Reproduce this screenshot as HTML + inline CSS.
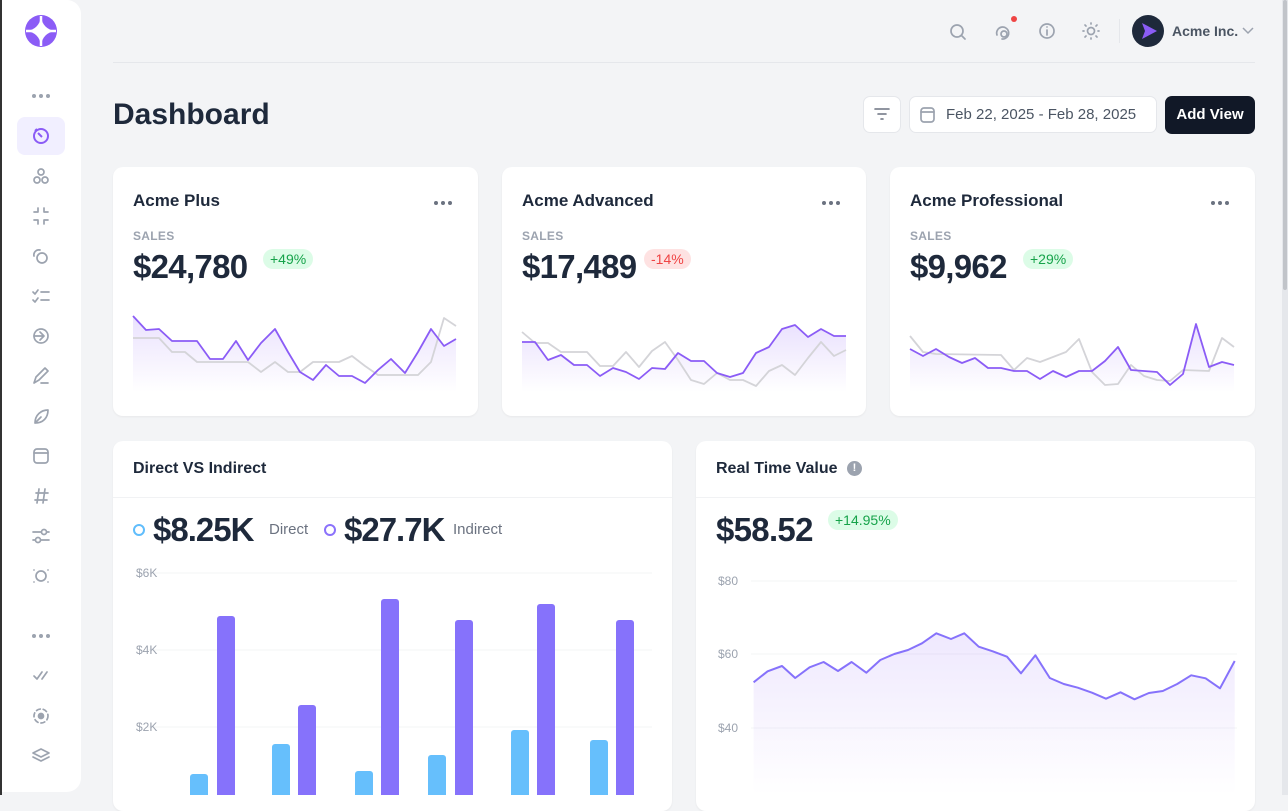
<!DOCTYPE html>
<html><head><meta charset="utf-8"><style>
*{box-sizing:border-box;margin:0;padding:0}
body{width:1288px;height:795px;overflow:hidden;background:#f3f4f6;font-family:"Liberation Sans",sans-serif;position:relative;color:#1e293b}
.abs{position:absolute}
.card{position:absolute;background:#fff;border-radius:10px;box-shadow:0 1px 2px rgba(0,0,0,.05)}
.ct{position:absolute;left:20px;top:24px;font-size:17px;font-weight:bold;color:#1e293b}
.dots{position:absolute;right:26px;top:34px;width:18px;height:4px}
.dots i{position:absolute;top:0;width:4px;height:4px;border-radius:50%;background:#6b7280}
.sales{position:absolute;left:20px;top:62px;font-size:12px;color:#9ca3af;font-weight:bold;letter-spacing:.3px}
.big{position:absolute;left:20px;top:81px;font-size:33px;font-weight:bold;color:#1e293b;letter-spacing:-0.7px}
.badge{position:absolute;top:82px;font-size:14px;padding:2px 7px;border-radius:10px}
.g{background:#dcfce7;color:#16a34a}.r{background:#fee2e2;color:#ef4444}
.ic{stroke:#9ca3af;fill:none;stroke-width:1.7;stroke-linecap:round;stroke-linejoin:round}
.ax{font-size:12px;fill:#9ca3af;font-family:"Liberation Sans",sans-serif}
</style></head><body>
<div class="abs" style="left:0;top:0;width:2px;height:795px;background:#333"></div>
<div class="abs" style="left:1282px;top:0;width:6px;height:795px;background:#e5e7eb"></div>
<div class="abs" style="left:1283px;top:0;width:4px;height:290px;background:#c1c4c9;border-radius:2px"></div>
<!-- sidebar -->
<div class="abs" style="left:2px;top:0;width:79px;height:792px;background:#fff;border-radius:0 14px 14px 0"></div>
<svg class="abs" style="left:0;top:0" width="82" height="795">
 <g fill="#8b5cf6"><circle cx="41" cy="31" r="16"/></g>
 <path d="M41 17 Q43 29 55 31 Q43 33 41 45 Q39 33 27 31 Q39 29 41 17Z" fill="#fff"/>
 <path d="M26 31h30M41 16v30" stroke="#fff" stroke-width="2.5"/>
 <g fill="#9ca3af"><circle cx="34" cy="96" r="2"/><circle cx="41" cy="96" r="2"/><circle cx="48" cy="96" r="2"/>
 <circle cx="34" cy="636" r="2"/><circle cx="41" cy="636" r="2"/><circle cx="48" cy="636" r="2"/></g>
 <rect x="17" y="117" width="48" height="38" rx="8" fill="#f1efff"/>
 <circle cx="41" cy="136" r="7" stroke="#8b5cf6" stroke-width="2" fill="none"/><path d="M38 133l4 4M35 131l2-2" stroke="#8b5cf6" stroke-width="2" fill="none"/>
 <g class="ic">
  <circle cx="41" cy="172" r="3"/><circle cx="37" cy="180" r="3"/><circle cx="45" cy="180" r="3"/>
  <path d="M34 212h4v-4M48 212h-4v-4M34 220h4v4M48 220h-4v4"/>
  <circle cx="42" cy="258" r="5"/><path d="M34 256a5 5 0 0 1 6-6"/>
  <path d="M33 292l2 2 3-4M33 300l2 2 3-4M41 292h8M41 300h8"/>
  <circle cx="41" cy="336" r="7"/><path d="M34 336h9M40 332l4 4-4 4"/>
  <path d="M34 383l2-6 9-9 3 3-9 9-5 3zM41 383h7"/>
  <path d="M35 423c0-8 6-13 13-13 0 8-5 13-13 13zM35 423l6-6"/>
  <rect x="34" y="449" width="14" height="14" rx="3"/><path d="M34 453h14"/>
  <path d="M36 493h12M35 500h12M39 489l-2 14M45 489l-2 14"/>
  <path d="M33 532h16M33 540h16"/><circle cx="44" cy="532" r="2.5" fill="#fff"/><circle cx="38" cy="540" r="2.5" fill="#fff"/>
  <circle cx="41" cy="576" r="5"/><path d="M34 570v0M48 570v0M34 582v0M48 582v0"/>
  <path d="M34 676l3 3 5-7M42 679l5-7"/>
  <circle cx="41" cy="716" r="7" stroke-dasharray="4 3"/><circle cx="41" cy="716" r="2.5" fill="#9ca3af"/>
  <path d="M41 749l8 4-8 4-8-4zM33 757l8 4 8-4"/>
 </g>
</svg>
<!-- header -->
<div class="abs" style="left:113px;top:62px;width:1142px;height:1px;background:#e5e7eb"></div>
<svg class="abs" style="left:940px;top:14px" width="160" height="34">
 <g class="ic" stroke="#6b7280">
  <circle cx="17" cy="17" r="6"/><path d="M22 22l3 3"/>
  <path d="M57 21a6 6 0 1 1 5 4"/><circle cx="64" cy="20" r="3"/>
  <circle cx="107" cy="17" r="7"/><path d="M107 16v5M107 13v0"/>
  <circle cx="151" cy="17" r="3.5"/><path d="M151 9v1M151 24v1M143 17h1M158 17h1M145 11l1 1M156 22l1 1M145 23l1-1M156 12l1-1"/>
 </g>
 <circle cx="74" cy="5" r="3" fill="#ef4444"/>
</svg>
<div class="abs" style="left:1119px;top:19px;width:1px;height:24px;background:#e5e7eb"></div>
<div class="abs" style="left:1132px;top:15px;width:32px;height:32px;border-radius:50%;background:#1e293b"></div>
<svg class="abs" style="left:1132px;top:15px" width="32" height="32"><path d="M10 8l15 8-15 8 3-8z" fill="#8b5cf6"/></svg>
<div class="abs" style="left:1172px;top:23px;font-size:14px;color:#4b5563;font-weight:bold">Acme Inc.</div>
<svg class="abs" style="left:1242px;top:27px" width="12" height="8"><path d="M1 1l5 5 5-5" stroke="#9ca3af" stroke-width="1.5" fill="none"/></svg>
<div class="abs" style="left:113px;top:98px;font-size:30px;font-weight:bold;color:#1e293b">Dashboard</div>
<div class="abs" style="left:863px;top:96px;width:38px;height:37px;background:#fff;border-radius:7px;border:1px solid #e5e7eb"></div>
<svg class="abs" style="left:863px;top:96px" width="38" height="37"><path d="M12 13h14M15 18h8M18 23h2" stroke="#6b7280" stroke-width="1.6" stroke-linecap="round"/></svg>
<div class="abs" style="left:909px;top:96px;width:248px;height:37px;background:#fff;border-radius:7px;border:1px solid #e5e7eb"></div>
<svg class="abs" style="left:918px;top:105px" width="20" height="20"><rect x="3" y="3" width="13" height="14" rx="3" class="ic" stroke="#6b7280"/><path d="M3 7h13" class="ic" stroke="#6b7280"/></svg>
<div class="abs" style="left:946px;top:106px;font-size:15px;color:#4b5563">Feb 22, 2025 - Feb 28, 2025</div>
<div class="abs" style="left:1165px;top:96px;width:90px;height:38px;background:#111827;border-radius:7px;color:#fff;font-size:15px;font-weight:bold;text-align:center;line-height:38px">Add View</div>

<!-- cards -->
<div class="card" style="left:113px;top:167px;width:365px;height:249px">
 <div class="ct">Acme Plus</div><div class="dots"><i style="left:0"></i><i style="left:7px"></i><i style="left:14px"></i></div>
 <div class="sales">SALES</div><div class="big">$24,780</div><div class="badge g" style="left:150px">+49%</div>
</div>
<div class="card" style="left:502px;top:167px;width:364px;height:249px">
 <div class="ct">Acme Advanced</div><div class="dots"><i style="left:0"></i><i style="left:7px"></i><i style="left:14px"></i></div>
 <div class="sales">SALES</div><div class="big">$17,489</div><div class="badge r" style="left:142px">-14%</div>
</div>
<div class="card" style="left:890px;top:167px;width:365px;height:249px">
 <div class="ct">Acme Professional</div><div class="dots"><i style="left:0"></i><i style="left:7px"></i><i style="left:14px"></i></div>
 <div class="sales">SALES</div><div class="big">$9,962</div><div class="badge g" style="left:133px">+29%</div>
</div>
<svg class="abs" style="left:0;top:0" width="1288" height="420">
 <defs><linearGradient id="gf" x1="0" y1="0" x2="0" y2="1"><stop offset="0" stop-color="#8b5cf6" stop-opacity=".18"/><stop offset="1" stop-color="#8b5cf6" stop-opacity="0"/></linearGradient></defs>
 <g fill="none" stroke-width="1.8" stroke-linejoin="round">
 <polygon fill="url(#gf)" stroke="none" points="133,316 146,330 159,329 172,341 185,341 197,341 210,359 223,359 236,341 248,360 261,343 275,329 288,352 300,372 313,380 326,365 339,376 352,376 365,383 378,370 391,359 405,373 418,352 431,329 444,346 456,339 456,392 133,392"/>
 <polyline stroke="#d4d4d8" points="133,338 159,338 172,352 185,352 197,362 248,362 261,372 275,362 288,372 300,372 313,362 339,362 352,356 365,366 378,375 418,375 431,362 444,318 456,326"/>
 <polyline stroke="#8b5cf6" points="133,316 146,330 159,329 172,341 185,341 197,341 210,359 223,359 236,341 248,360 261,343 275,329 288,352 300,372 313,380 326,365 339,376 352,376 365,383 378,370 391,359 405,373 418,352 431,329 444,346 456,339"/>
 <polygon fill="url(#gf)" stroke="none" points="522,342 535,342 548,360 561,355 574,365 587,365 600,376 613,368 626,372 639,379 652,368 665,369 678,353 691,361 704,361 717,373 730,377 743,373 756,353 769,347 782,329 795,325 808,337 821,329 834,336 846,336 846,392 522,392"/>
 <polyline stroke="#d4d4d8" points="522,332 535,343 548,343 561,352 587,352 600,366 613,366 626,352 639,367 652,351 665,342 678,360 691,380 704,384 717,373 730,380 743,380 756,386 769,371 782,365 795,375 808,358 821,342 834,356 846,350"/>
 <polyline stroke="#8b5cf6" points="522,342 535,342 548,360 561,355 574,365 587,365 600,376 613,368 626,372 639,379 652,368 665,369 678,353 691,361 704,361 717,373 730,377 743,373 756,353 769,347 782,329 795,325 808,337 821,329 834,336 846,336"/>
 <polygon fill="url(#gf)" stroke="none" points="910,349 923,356 936,349 949,357 962,363 975,358 988,368 1001,368 1014,371 1027,371 1040,379 1053,371 1066,377 1079,371 1092,371 1105,361 1118,347 1131,370 1144,371 1157,372 1170,385 1183,374 1196,324 1209,367 1222,362 1234,365 1234,392 910,392"/>
 <polyline stroke="#d4d4d8" points="910,336 923,352 936,354 1001,355 1014,370 1027,358 1040,362 1066,352 1079,339 1092,372 1105,385 1118,384 1131,365 1144,376 1157,380 1170,381 1183,370 1209,371 1222,338 1234,347"/>
 <polyline stroke="#8b5cf6" points="910,349 923,356 936,349 949,357 962,363 975,358 988,368 1001,368 1014,371 1027,371 1040,379 1053,371 1066,377 1079,371 1092,371 1105,361 1118,347 1131,370 1144,371 1157,372 1170,385 1183,374 1196,324 1209,367 1222,362 1234,365"/>
 </g>
</svg>

<!-- bottom cards -->
<div class="card" style="left:113px;top:441px;width:559px;height:370px">
 <div class="abs" style="left:20px;top:19px;font-size:16px;font-weight:bold">Direct VS Indirect</div>
 <div class="abs" style="left:0;top:56px;width:559px;height:1px;background:#f1f2f4"></div>
 <div class="abs" style="left:20px;top:83px;width:12px;height:12px;border-radius:50%;border:2.5px solid #60bdfc"></div>
 <div class="abs" style="left:40px;top:70px;font-size:33px;font-weight:bold;letter-spacing:-1px">$8.25K</div>
 <div class="abs" style="left:156px;top:80px;font-size:15px;color:#6b7280">Direct</div>
 <div class="abs" style="left:211px;top:83px;width:12px;height:12px;border-radius:50%;border:2.5px solid #8b72fb"></div>
 <div class="abs" style="left:231px;top:70px;font-size:33px;font-weight:bold;letter-spacing:-1px">$27.7K</div>
 <div class="abs" style="left:340px;top:80px;font-size:15px;color:#6b7280">Indirect</div>
</div>
<div class="card" style="left:696px;top:441px;width:559px;height:370px">
 <div class="abs" style="left:20px;top:19px;font-size:16px;font-weight:bold">Real Time Value</div>
 <div class="abs" style="left:151px;top:20px;width:15px;height:15px;border-radius:50%;background:#9ca3af;color:#fff;font-size:11px;font-weight:bold;text-align:center;line-height:15px">!</div>
 <div class="abs" style="left:0;top:56px;width:559px;height:1px;background:#f1f2f4"></div>
 <div class="abs" style="left:20px;top:70px;font-size:33px;font-weight:bold;letter-spacing:-0.7px">$58.52</div>
 <div class="badge g" style="left:132px;top:69px">+14.95%</div>
</div>
<svg class="abs" style="left:0;top:420px" width="1288" height="375">
 <defs><linearGradient id="gf2" x1="0" y1="0" x2="0" y2="1"><stop offset="0" stop-color="#8b5cf6" stop-opacity=".14"/><stop offset="1" stop-color="#8b5cf6" stop-opacity="0"/></linearGradient></defs>
 <g transform="translate(0,-420)">
 <g stroke="#f3f4f6" stroke-width="1"><path d="M147 573h505M147 650h505M147 727h505M751 581h486M751 654h486M751 728h486"/></g>
 <text class="ax" x="136" y="577">$6K</text><text class="ax" x="136" y="654">$4K</text><text class="ax" x="136" y="731">$2K</text>
 <text class="ax" x="718" y="585">$80</text><text class="ax" x="718" y="658">$60</text><text class="ax" x="718" y="732">$40</text>
 <g fill="#66bffc">
  <rect x="190" y="774" width="18" height="40" rx="3"/><rect x="272" y="744" width="18" height="70" rx="3"/><rect x="355" y="771" width="18" height="40" rx="3"/>
  <rect x="428" y="755" width="18" height="60" rx="3"/><rect x="511" y="730" width="18" height="80" rx="3"/><rect x="590" y="740" width="18" height="70" rx="3"/>
 </g>
 <g fill="#8672fb">
  <rect x="217" y="616" width="18" height="200" rx="3"/><rect x="298" y="705" width="18" height="100" rx="3"/><rect x="381" y="599" width="18" height="210" rx="3"/>
  <rect x="455" y="620" width="18" height="190" rx="3"/><rect x="537" y="604" width="18" height="210" rx="3"/><rect x="616" y="620" width="18" height="190" rx="3"/>
 </g>
 <polygon fill="url(#gf2)" points="753.6,682.3 767.6,671.3 782,666 795.2,678 809.6,667.3 823.6,662 838,671 851.6,662 866.3,672.7 880.3,660 894.3,654 908,650 922,643.3 936.3,633.3 951,639 964.3,633.3 978.7,646.7 992.7,651.3 1007,656.7 1021,673.3 1035.4,655.3 1049.8,678 1063.8,684 1077.8,687.7 1092,692.7 1106,698.7 1120.5,692.3 1134.5,699.3 1148.9,693 1162.8,691 1177.2,684 1191.2,675.3 1205.6,678.3 1220,688.3 1234.7,661 1234.7,795 753.6,795"/>
 <polyline fill="none" stroke="#8672fb" stroke-width="2" stroke-linejoin="round" points="753.6,682.3 767.6,671.3 782,666 795.2,678 809.6,667.3 823.6,662 838,671 851.6,662 866.3,672.7 880.3,660 894.3,654 908,650 922,643.3 936.3,633.3 951,639 964.3,633.3 978.7,646.7 992.7,651.3 1007,656.7 1021,673.3 1035.4,655.3 1049.8,678 1063.8,684 1077.8,687.7 1092,692.7 1106,698.7 1120.5,692.3 1134.5,699.3 1148.9,693 1162.8,691 1177.2,684 1191.2,675.3 1205.6,678.3 1220,688.3 1234.7,661"/>
 </g>
</svg>
</body></html>
